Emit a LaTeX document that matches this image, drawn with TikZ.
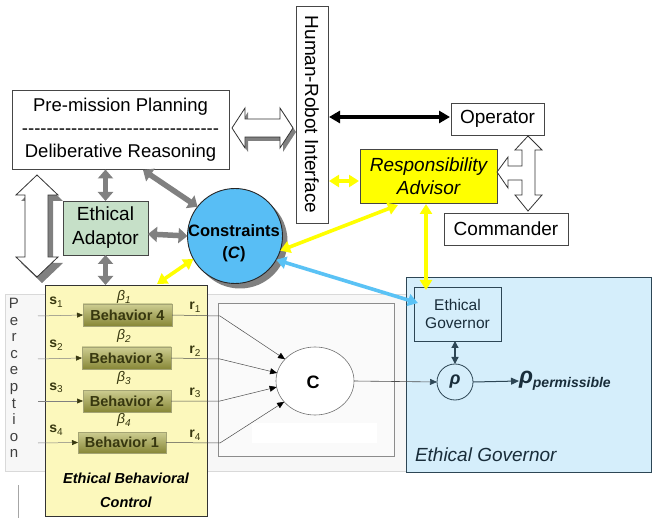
\documentclass[tikz,border=0pt]{standalone}
\usepackage{fontspec}
\setmainfont{Liberation Sans}
\usetikzlibrary{arrows.meta,shapes.geometric,calc}
\definecolor{garr}{RGB}{128,128,128}
\definecolor{yarr}{RGB}{255,255,0}
\definecolor{barr}{RGB}{90,194,245}
\definecolor{ebcfill}{RGB}{252,248,188}
\definecolor{adfill}{RGB}{198,224,200}
\definecolor{consfill}{RGB}{88,190,245}
\definecolor{egfill}{RGB}{213,238,251}
\definecolor{egline}{RGB}{45,70,85}
\definecolor{egtext}{RGB}{25,45,58}
\definecolor{olive}{RGB}{55,55,15}
\definecolor{btop}{RGB}{205,205,145}
\definecolor{bbot}{RGB}{135,135,55}
\definecolor{boxline}{RGB}{70,70,70}
\newcommand\lbl[2]{\textbf{#1}{\fontsize{10}{10}\selectfont\raisebox{-2.5pt}{#2}}}
\begin{document}
\begin{tikzpicture}[x=1pt,y=-1pt,
  every node/.style={inner sep=0pt,outer sep=0pt},
  box/.style={draw=boxline,line width=0.8pt,fill=white},
  gra/.style={draw=garr,line width=5.5pt,{Triangle[length=9pt,width=15pt]}-{Triangle[length=9pt,width=15pt]}},
  ya/.style={draw=yarr,line width=3.6pt,{Triangle[length=10pt,width=12pt]}-{Triangle[length=10pt,width=12pt]}},
  ba/.style={draw=barr,line width=3.6pt,{Triangle[length=10pt,width=12pt]}-{Triangle[length=10pt,width=12pt]}},
  ka/.style={draw=black,line width=4pt,{Triangle[length=11pt,width=12pt]}-{Triangle[length=11pt,width=12pt]}},
  beh/.style={draw=btop!80!black,line width=0.4pt,top color=btop,bottom color=bbot,minimum height=22pt,
     text=olive,font=\fontsize{14.5}{16}\selectfont\bfseries},
  inl/.style={draw=gray,line width=0.5pt,-{Triangle[length=6pt,width=5pt,color=olive]}},
  outl/.style={draw=black!70,line width=0.5pt,-{Triangle[length=7pt,width=6pt,color=black]}},
  hollow/.style={draw=black!80,line width=0.8pt,fill=white},
  olab/.style={text=olive,font=\fontsize{14}{14}\selectfont},
  blab/.style={text=olive,font=\fontsize{14}{14}\selectfont\itshape}
]
\useasboundingbox (0,0) rectangle (653,518);
\fill[white] (0,0) rectangle (653,518);

% lower band and inner boxes
\draw[draw=black!15,fill=black!3,line width=0.6pt] (5,294) rectangle (410,471);
\draw[draw=black!45,fill=black!2,line width=0.6pt] (218,303) rectangle (394,456);
\fill[white] (252,423) rectangle (377,443);
\draw[black!35,line width=0.6pt] (18,485) -- (18,518);

% ethical governor region
\node[draw=egline,fill=egfill,line width=0.8pt,minimum width=245pt,minimum height=195pt] (egr) at (528.5,374.5) {};
\node[anchor=west,text=egtext,font=\fontsize{19}{19}\selectfont\itshape] (egl) at (415,455) {Ethical Governor};
\node[draw=egline,line width=0.8pt,minimum width=87pt,minimum height=54pt,align=center,text=egtext,
      font=\fontsize{15.5}{18}\selectfont] (eg) at (457.5,314) {Ethical\\Governor};
\node[circle,draw=egline,line width=0.8pt,minimum size=36pt,text=egtext,font=\fontsize{18}{18}\selectfont\bfseries\itshape] (rho) at (455,382) {ρ};
\node[anchor=west,text=egtext,font=\fontsize{23}{23}\selectfont\bfseries\itshape] (rp) at (519,381)
  {ρ\raisebox{-4pt}{\fontsize{14}{14}\selectfont permissible}};

% ethical behavioral control box
\node[draw=black!80,fill=ebcfill,line width=0.8pt,minimum width=162pt,minimum height=231pt] (ebc) at (126,400.5) {};
\node[align=center,font=\fontsize{14.5}{24}\selectfont\bfseries\itshape] (ebcl) at (126,490) {Ethical Behavioral\\Control};

% perception
\node[align=center,text=black!75,font=\fontsize{15}{16.6}\selectfont] (perc) at (14,378)
  {P\\e\\r\\c\\e\\p\\t\\i\\o\\n};

% behaviours
\node[beh,minimum width=89pt] (b4) at (127.5,315) {Behavior 4};
\node[beh,minimum width=89pt] (b3) at (126.5,358) {Behavior 3};
\node[beh,minimum width=88pt] (b2) at (127,401) {Behavior 2};
\node[beh,minimum width=88pt,minimum height=21pt] (b1) at (122,442.5) {Behavior 1};

\node[olab] (s1) at (56,302) {\lbl{s}{1}};
\node[olab] (s2) at (56,345) {\lbl{s}{2}};
\node[olab] (s3) at (56,388) {\lbl{s}{3}};
\node[olab] (s4) at (56,430) {\lbl{s}{4}};
\node[olab] (r1) at (195,307) {\lbl{r}{1}};
\node[olab] (r2) at (195,351) {\lbl{r}{2}};
\node[olab] (r3) at (195,393) {\lbl{r}{3}};
\node[olab] (r4) at (195,435) {\lbl{r}{4}};
\node[blab] (be1) at (124,297) {β{\fontsize{10}{10}\selectfont\raisebox{-2.5pt}{1}}};
\node[blab] (be2) at (124,336) {β{\fontsize{10}{10}\selectfont\raisebox{-2.5pt}{2}}};
\node[blab] (be3) at (124,378) {β{\fontsize{10}{10}\selectfont\raisebox{-2.5pt}{3}}};
\node[blab] (be4) at (124,420) {β{\fontsize{10}{10}\selectfont\raisebox{-2.5pt}{4}}};

\coordinate (i1) at (38,316); \coordinate (i2) at (38,359);
\coordinate (i3) at (38,401); \coordinate (i4) at (38,443);
\draw[inl] (i1) -- (b4.west);
\draw[inl] (i2) -- (b3.west);
\draw[inl] (i3) -- (b2.west);
\draw[inl] (i4) -- (b1.west);

% C ellipse
\node[ellipse,draw=black!55,fill=white,line width=0.6pt,minimum width=78pt,minimum height=68pt] (ellC) at (315,381) {};
\node[font=\fontsize{18}{18}\selectfont\bfseries] (cl) at (313,382) {C};
\coordinate (k1) at (220,316); \coordinate (k2) at (220,359);
\coordinate (k3) at (220,401); \coordinate (k4) at (220,443);
\draw[outl] (b4.east) -- (k1) -- (ellC.144);
\draw[outl] (b3.east) -- (k2) -- (ellC.168);
\draw[outl] (b2.east) -- (k3) -- (ellC.189);
\draw[outl] (b1.east) -- (k4) -- (ellC.214);
\draw[draw=black!70,line width=0.6pt,-{Triangle[length=7pt,width=6pt,color=egline]}] (ellC.east) -- (rho.west);
\draw[draw=egline,line width=1pt,-{Triangle[length=8pt,width=7pt]}] (rho.east) -- (rp.west);
\draw[draw=egline,line width=1.2pt,{Triangle[length=7pt,width=7pt]}-{Triangle[length=7pt,width=7pt]}] (eg.south -| rho.north) -- (rho.north);

% top boxes
\node[box,minimum width=217pt,minimum height=79pt,align=center,font=\fontsize{18.5}{23}\selectfont] (plan) at (120.5,130)
  {Pre-mission Planning\\-{}-{}-{}-{}-{}-{}-{}-{}-{}-{}-{}-{}-{}-{}-{}-{}-{}-{}-{}-{}-{}-{}-{}-{}-{}-{}-{}-{}-{}-{}-{}-\\Deliberative Reasoning};
\node[box,minimum width=32pt,minimum height=217pt] (hri) at (312,114.5) {};
\node[rotate=-90,font=\fontsize{19}{19}\selectfont] (hril) at (hri.center) {Human-Robot Interface};
\node[box,minimum width=93pt,minimum height=32pt,font=\fontsize{19}{19}\selectfont] (op) at (497.5,119) {Operator};
\node[box,minimum width=124pt,minimum height=32pt,font=\fontsize{19}{19}\selectfont] (com) at (506,229) {Commander};
\node[box,fill=yarr,minimum width=137pt,minimum height=54pt,align=center,font=\fontsize{19}{23}\selectfont\itshape] (ra) at (428.5,176)
  {Responsibility\\Advisor};
\node[box,fill=adfill,minimum width=85pt,minimum height=54pt,align=center,font=\fontsize{19}{24}\selectfont] (adapt) at (105.5,228)
  {Ethical\\Adaptor};

% constraints circle with shadow
\fill[garr] (240,241) circle (47.5pt);
\node[circle,draw=black!85,fill=consfill,line width=0.9pt,minimum size=95pt] (cons) at (235,236) {};
\node[align=center,font=\fontsize{16.5}{22}\selectfont\bfseries] (consl) at (234,243) {Constraints\\(\textit{C})};

% hollow arrows
\fill[garr] (235,132) -- (248,112) -- (248,123) -- (283,123) -- (283,112) -- (296,132) -- (283,152) -- (283,141) -- (248,141) -- (248,152) -- cycle;
\draw[hollow] (232,128) -- (245,108) -- (245,119) -- (280,119) -- (280,108) -- (293,128) -- (280,148) -- (280,137) -- (245,137) -- (245,148) -- cycle;
\fill[garr] (42,181) -- (63,201) -- (53,201) -- (53,263) -- (63,263) -- (42,283) -- (21,263) -- (30,263) -- (30,201) -- (21,201) -- cycle;
\draw[hollow] (37,175) -- (58,195) -- (48,195) -- (48,257) -- (58,257) -- (37,277) -- (16,257) -- (25,257) -- (25,195) -- (16,195) -- cycle;
\draw[hollow] (528,136) -- (542,150) -- (535,150) -- (535,195) -- (542,195) -- (528,211) -- (515,195) -- (522,195) -- (522,180)
  -- (508,180) -- (508,188) -- (497,172) -- (508,157) -- (508,166) -- (522,166) -- (522,150) -- (515,150) -- cycle;

% gray arrows
\draw[gra] (adapt.north) -- (adapt.north |- plan.south);
\draw[gra] (adapt.south) -- (adapt.south |- ebc.north);
\draw[gra] ($(adapt.east)+(0,6)$) -- (cons.west);
\coordinate (planB) at (143,170);
\draw[gra] (planB) -- (cons.142);

% yellow / blue / black arrows
\coordinate (ebcT) at (157,284);
\draw[ya] (ebcT) -- (cons.209);
\coordinate (raB) at (398,205);
\draw[ya] (cons.-18) -- (raB);
\coordinate (raS) at (426,204);
\coordinate (egT) at (426,290);
\draw[ya] (raS) -- (egT);
\draw[ya] ($(hri.east |- ra.west)+(1,5)$) -- ($(ra.west)+(-1,5)$);
\coordinate (egW) at (418,303);
\draw[ba] (cons.-30) -- (egW);
\draw[ka] ($(hri.east |- op.west)+(1,-2)$) -- ($(op.west)+(-1,-2)$);
\end{tikzpicture}
\end{document}
